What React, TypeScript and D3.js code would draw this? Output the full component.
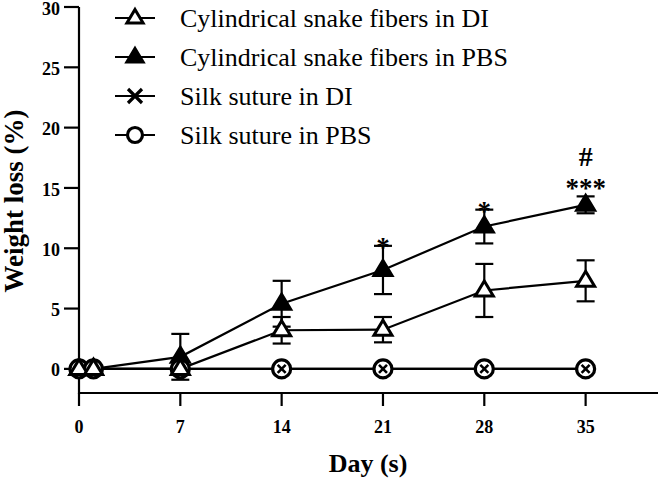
import * as React from 'react'
import { useEffect, useRef } from 'react'
import * as d3 from 'd3'

// sampling days
const days = [0, 1, 7, 14, 21, 28, 35]

// cylindrical snake fibers, mean +/- SD
const diMean = [0, 0, 0, 3.2, 3.25, 6.5, 7.3]
const diSd = [0, 0, 0, 1.1, 1.05, 2.2, 1.7]
const pbsMean = [0, 0, 1.0, 5.4, 8.2, 11.8, 13.6]
const pbsSd = [0, 0, 1.9, 1.9, 2.0, 1.4, 0.7]

// silk suture
const silkDi = [0, 0, 0, 0, 0, 0, 0]
const silkPbs = [0, 0, 0, 0, 0, 0, 0]

// significance marks on the PBS series
const starDays = [21, 28, 35]
const starLabels = ['*', '*', '***']
const hashDays = [35]

const xTicks = [0, 7, 14, 21, 28, 35]
const yTicks = [0, 5, 10, 15, 20, 25, 30]

const legendLabels = [
  'Cylindrical snake fibers in DI',
  'Cylindrical snake fibers in PBS',
  'Silk suture in DI',
  'Silk suture in PBS',
]

const W = 661
const H = 480
const FONT = '"Liberation Serif", "Times New Roman", serif'

type Sym = 'openTri' | 'fillTri' | 'cross' | 'circle'

function drawSymbol(g: d3.Selection<SVGGElement, unknown, null, undefined>, kind: Sym, cx: number, cy: number, small = false) {
  const s = small ? 0.9 : 1
  if (kind === 'openTri' || kind === 'fillTri') {
    const hw = 9 * s
    const top = cy - 9.5 * s
    const base = cy + 5.5 * s
    g.append('path')
      .attr('d', `M${cx},${top}L${cx + hw},${base}L${cx - hw},${base}Z`)
      .attr('fill', kind === 'fillTri' ? '#000' : '#fff')
      .attr('stroke', '#000')
      .attr('stroke-width', 3)
      .attr('stroke-linejoin', 'miter')
  } else if (kind === 'circle') {
    g.append('circle')
      .attr('cx', cx).attr('cy', cy).attr('r', small ? 7.5 : 9)
      .attr('fill', '#fff')
      .attr('stroke', '#000')
      .attr('stroke-width', 3.2)
  } else {
    const a = small ? 7 : 4
    g.append('path')
      .attr('d', `M${cx - a},${cy - a}L${cx + a},${cy + a}M${cx - a},${cy + a}L${cx + a},${cy - a}`)
      .attr('stroke', '#000')
      .attr('stroke-width', small ? 3.2 : 2.6)
  }
}

export default function App() {
  const svgRef = useRef<SVGSVGElement>(null)

  useEffect(() => {
    if (!svgRef.current) return
    const svg = d3.select(svgRef.current)
    svg.selectAll('*').remove()

    const x = d3.scaleLinear().domain([0, 40]).range([79, 658])
    const y = d3.scaleLinear().domain([-2, 30]).range([393, 7])

    const root = svg.append('g')

    // axes
    root.append('line')
      .attr('x1', x(0)).attr('x2', x(40)).attr('y1', y(-2)).attr('y2', y(-2))
      .attr('stroke', '#000').attr('stroke-width', 2.2)
    root.append('line')
      .attr('x1', x(0)).attr('x2', x(0)).attr('y1', y(-2) + 1).attr('y2', y(30))
      .attr('stroke', '#000').attr('stroke-width', 2.2)

    xTicks.forEach(t => {
      root.append('line')
        .attr('x1', x(t)).attr('x2', x(t)).attr('y1', y(-2)).attr('y2', y(-2) + 13)
        .attr('stroke', '#000').attr('stroke-width', 2.2)
      root.append('text')
        .attr('x', x(t)).attr('y', 433)
        .attr('text-anchor', 'middle')
        .attr('font-family', FONT).attr('font-weight', 'bold').attr('font-size', 18)
        .text(t)
    })
    yTicks.forEach(t => {
      root.append('line')
        .attr('x1', x(0) - 15).attr('x2', x(0)).attr('y1', y(t)).attr('y2', y(t))
        .attr('stroke', '#000').attr('stroke-width', 2.2)
      root.append('text')
        .attr('x', 60).attr('y', y(t) + 1.5).attr('dy', '0.34em')
        .attr('text-anchor', 'end')
        .attr('font-family', FONT).attr('font-weight', 'bold').attr('font-size', 18)
        .text(t)
    })

    root.append('text')
      .attr('x', 368).attr('y', 472)
      .attr('text-anchor', 'middle')
      .attr('font-family', FONT).attr('font-weight', 'bold').attr('font-size', 26)
      .text('Day (s)')
    root.append('text')
      .attr('transform', `translate(23,${201}) rotate(-90)`)
      .attr('text-anchor', 'middle')
      .attr('font-family', FONT).attr('font-weight', 'bold').attr('font-size', 27)
      .text('Weight loss (%)')

    // lines
    const line = d3.line<[number, number]>().x(d => x(d[0])).y(d => y(d[1]))
    const series = [diMean, pbsMean, silkDi, silkPbs]
    series.forEach(vals => {
      root.append('path')
        .attr('d', line(days.map((d, i) => [d, vals[i]] as [number, number])))
        .attr('fill', 'none').attr('stroke', '#000').attr('stroke-width', 2.2)
    })

    // error bars
    const errBars = (mean: number[], sd: number[]) => {
      days.forEach((d, i) => {
        if (!sd[i]) return
        const cx = x(d)
        const y1 = y(mean[i] + sd[i])
        const y0 = y(mean[i] - sd[i])
        root.append('line').attr('x1', cx).attr('x2', cx).attr('y1', y0).attr('y2', y1)
          .attr('stroke', '#000').attr('stroke-width', 2.2)
        ;[y0, y1].forEach(yy => {
          root.append('line').attr('x1', cx - 9).attr('x2', cx + 9).attr('y1', yy).attr('y2', yy)
            .attr('stroke', '#000').attr('stroke-width', 2.2)
        })
      })
    }
    errBars(pbsMean, pbsSd)
    errBars(diMean, diSd)

    // markers
    const marks = root.append('g')
    days.forEach((d, i) => drawSymbol(marks, 'fillTri', x(d), y(pbsMean[i])))
    days.forEach((d, i) => drawSymbol(marks, 'circle', x(d), y(silkPbs[i])))
    days.forEach((d, i) => drawSymbol(marks, 'cross', x(d), y(silkDi[i])))
    days.forEach((d, i) => drawSymbol(marks, 'openTri', x(d), y(diMean[i])))

    // significance
    starDays.forEach((d, k) => {
      const i = days.indexOf(d)
      const top = y(pbsMean[i] + pbsSd[i])
      const lab = starLabels[k]
      root.append('text')
        .attr('x', x(d)).attr('y', top + (lab.length > 1 ? 1 : 10))
        .attr('text-anchor', 'middle')
        .attr('font-family', FONT).attr('font-weight', 'bold').attr('font-size', 27)
        .text(lab)
    })
    hashDays.forEach(d => {
      const i = days.indexOf(d)
      const top = y(pbsMean[i] + pbsSd[i])
      root.append('text')
        .attr('x', x(d)).attr('y', top - 30)
        .attr('text-anchor', 'middle')
        .attr('font-family', FONT).attr('font-weight', 'bold').attr('font-size', 28)
        .text('#')
    })

    // legend
    const kinds: Sym[] = ['openTri', 'fillTri', 'cross', 'circle']
    const leg = root.append('g')
    legendLabels.forEach((lab, i) => {
      const cy = 18 + i * 39
      leg.append('line').attr('x1', 115).attr('x2', 155).attr('y1', cy).attr('y2', cy)
        .attr('stroke', '#000').attr('stroke-width', 2.2)
      drawSymbol(leg, kinds[i], 135, cy, true)
      leg.append('text')
        .attr('x', 180).attr('y', cy + 9)
        .attr('font-family', FONT).attr('font-size', 26)
        .text(lab)
    })
  }, [])

  return (
    <svg
      ref={svgRef}
      width={W}
      height={H}
      style={{ position: 'absolute', left: 0, top: 0, background: '#fff' }}
    />
  )
}
